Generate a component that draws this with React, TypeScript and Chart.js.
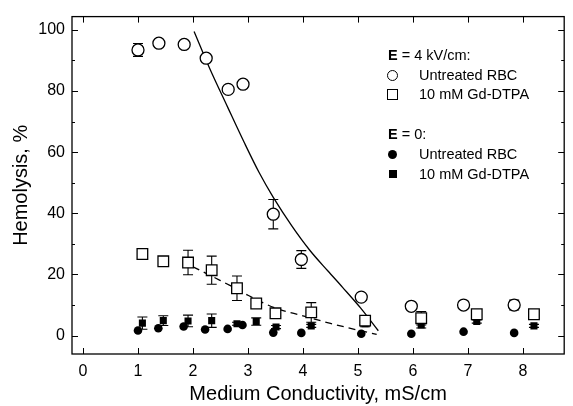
import React, { useEffect, useRef } from "react";
import { Chart, registerables } from "chart.js";
Chart.register(...registerables);

// E = 4 kV/cm, untreated RBC (open circles)
const xOpenCircle = [1.0, 1.38, 1.84, 2.24, 2.64, 2.91, 3.46, 3.97, 5.06, 5.97, 6.92, 7.84];
const yOpenCircle = [93.4, 95.6, 95.2, 90.7, 80.5, 82.2, 39.7, 24.9, 12.6, 9.6, 10.0, 10.0];
const eOpenCircle = [2.1, 1, 1, 1, 1, 1, 4.8, 2.9, 1, 1, 1, 1.6];

// E = 4 kV/cm, 10 mM Gd-DTPA (open squares)
const xOpenSquare = [1.08, 1.46, 1.91, 2.34, 2.8, 3.15, 3.5, 4.15, 5.13, 6.15, 7.16, 8.2];
const yOpenSquare = [26.7, 24.3, 23.9, 21.4, 15.5, 10.5, 7.3, 7.6, 4.9, 5.7, 7.0, 7.0];
const eOpenSquare = [1, 1, 4, 4.6, 4, 1, 1, 3.2, 1.5, 2.2, 1, 1];

// E = 0, untreated RBC (filled circles)
const xFilledCircle = [1.0, 1.37, 1.83, 2.22, 2.63, 2.9, 3.46, 3.97, 5.06, 5.97, 6.92, 7.84];
const yFilledCircle = [1.7, 2.4, 3.0, 2.0, 2.2, 3.5, 1.0, 0.9, 0.6, 0.6, 1.3, 0.9];

// E = 0, 10 mM Gd-DTPA (filled squares)
const xFilledSquare = [1.08, 1.46, 1.91, 2.34, 2.8, 3.15, 3.51, 4.15, 5.13, 6.15, 7.16, 8.2];
const yFilledSquare = [4.1, 4.9, 4.8, 4.9, 3.9, 4.6, 2.8, 3.2, 3.9, 3.5, 4.6, 3.2];
const eFilledSquare = [2, 1.6, 1.9, 2.2, 0.5, 1.2, 0.5, 0.5, 1, 1, 0.5, 0.5];

// Fit curves
const xSolidFit = [2.02, 2.3, 2.63, 2.93, 3.2, 3.46, 3.8, 4.12, 4.45, 4.72, 5.05, 5.37];
const ySolidFit = [99.4, 87.5, 74.7, 63.2, 53.4, 45.2, 35.8, 28.0, 21.2, 15.8, 9.0, 1.6];
const xDashFit = [2.0, 2.5, 2.78, 3.0, 3.5, 4.0, 4.5, 5.0, 5.34];
const yDashFit = [22.5, 18.0, 15.4, 13.2, 9.0, 6.5, 4.0, 1.8, 0.4];

const xTicks = [0, 1, 2, 3, 4, 5, 6, 7, 8];
const yTicks = [0, 20, 40, 60, 80, 100];
const yMinorTicks = [10, 30, 50, 70, 90];

const FONT = "'Liberation Sans', Arial, sans-serif";

const pts = (xs: number[], ys: number[]) => xs.map((x, i) => ({ x, y: ys[i] }));

const errorBarPlugin = {
  id: "errorBars",
  beforeDatasetsDraw(chart: any) {
    const ctx = chart.ctx;
    const ys = chart.scales.y;
    chart.data.datasets.forEach((ds: any, i: number) => {
      if (!ds.errors) return;
      const meta = chart.getDatasetMeta(i);
      ctx.save();
      ctx.strokeStyle = "#000";
      ctx.lineWidth = 1.1;
      meta.data.forEach((el: any, j: number) => {
        const e = ds.errors[j];
        if (!e) return;
        const v = ds.data[j].y;
        const x = el.x;
        const top = ys.getPixelForValue(v + e);
        const bot = ys.getPixelForValue(v - e);
        ctx.beginPath();
        ctx.moveTo(x, top);
        ctx.lineTo(x, bot);
        ctx.moveTo(x - 5, top);
        ctx.lineTo(x + 5, top);
        ctx.moveTo(x - 5, bot);
        ctx.lineTo(x + 5, bot);
        ctx.stroke();
      });
      ctx.restore();
    });
  },
};

const framePlugin = {
  id: "frame",
  afterDraw(chart: any) {
    const ctx = chart.ctx;
    const { left, right, top, bottom } = chart.chartArea;
    const xs = chart.scales.x;
    const ys = chart.scales.y;
    ctx.save();
    ctx.strokeStyle = "#000";
    ctx.lineWidth = 1.3;
    ctx.strokeRect(left, top, right - left, bottom - top);
    ctx.lineWidth = 1;
    ctx.beginPath();
    xTicks.forEach((v) => {
      const p = Math.round(xs.getPixelForValue(v)) + 0.5;
      ctx.moveTo(p, bottom);
      ctx.lineTo(p, bottom - 6);
      ctx.moveTo(p, top);
      ctx.lineTo(p, top + 6);
    });
    yTicks.forEach((v) => {
      const p = Math.round(ys.getPixelForValue(v)) + 0.5;
      ctx.moveTo(left, p);
      ctx.lineTo(left + 6, p);
      ctx.moveTo(right, p);
      ctx.lineTo(right - 6, p);
    });
    yMinorTicks.forEach((v) => {
      const p = Math.round(ys.getPixelForValue(v)) + 0.5;
      ctx.moveTo(left, p);
      ctx.lineTo(left + 3, p);
      ctx.moveTo(right, p);
      ctx.lineTo(right - 3, p);
    });
    ctx.stroke();
    ctx.restore();
  },
};

function Legend() {
  const rowStyle = (top: number): React.CSSProperties => ({
    position: "absolute",
    left: 0,
    top: top - 9,
    height: 18,
    lineHeight: "18px",
    fontFamily: FONT,
    fontSize: 14.5,
    color: "#000",
    whiteSpace: "nowrap",
  });
  const sym = (s: React.CSSProperties): React.CSSProperties => ({
    position: "absolute",
    boxSizing: "border-box",
    ...s,
  });
  return (
    <div style={{ position: "absolute", left: 0, top: 0, width: 573, height: 406, pointerEvents: "none" }}>
      <div style={{ ...rowStyle(55), left: 388 }}>
        <b>E</b> = 4 kV/cm:
      </div>
      <div style={sym({ left: 387, top: 70, width: 11, height: 11, border: "1.3px solid #000", borderRadius: "50%" })} />
      <div style={{ ...rowStyle(75), left: 419 }}>Untreated RBC</div>
      <div style={sym({ left: 387, top: 89, width: 11, height: 11, border: "1.3px solid #000" })} />
      <div style={{ ...rowStyle(94), left: 419 }}>10 mM Gd-DTPA</div>
      <div style={{ ...rowStyle(134), left: 388 }}>
        <b>E</b> = 0:
      </div>
      <div style={sym({ left: 388, top: 150, width: 9, height: 9, background: "#000", borderRadius: "50%" })} />
      <div style={{ ...rowStyle(154), left: 419 }}>Untreated RBC</div>
      <div style={sym({ left: 389, top: 170, width: 8, height: 8, background: "#000" })} />
      <div style={{ ...rowStyle(174), left: 419 }}>10 mM Gd-DTPA</div>
    </div>
  );
}

export default function App() {
  const ref = useRef<HTMLCanvasElement>(null);
  useEffect(() => {
    const chart = new Chart(ref.current as HTMLCanvasElement, {
      type: "scatter",
      data: {
        datasets: [
          {
            label: "E = 4 kV/cm: Untreated RBC",
            data: pts(xOpenCircle, yOpenCircle),
            errors: eOpenCircle,
            pointStyle: "circle",
            pointRadius: 6,
            backgroundColor: "#fff",
            borderColor: "#000",
            borderWidth: 1.3,
          } as any,
          {
            label: "E = 4 kV/cm: 10 mM Gd-DTPA",
            data: pts(xOpenSquare, yOpenSquare),
            errors: eOpenSquare,
            pointStyle: "rect",
            pointRadius: 7.5,
            backgroundColor: "#fff",
            borderColor: "#000",
            borderWidth: 1.3,
          } as any,
          {
            label: "E = 0: Untreated RBC",
            data: pts(xFilledCircle, yFilledCircle),
            pointStyle: "circle",
            pointRadius: 4.3,
            backgroundColor: "#000",
            borderColor: "#000",
            borderWidth: 0,
          } as any,
          {
            label: "E = 0: 10 mM Gd-DTPA",
            data: pts(xFilledSquare, yFilledSquare),
            errors: eFilledSquare,
            pointStyle: "rect",
            pointRadius: 5,
            backgroundColor: "#000",
            borderColor: "#000",
            borderWidth: 0,
          } as any,
          {
            label: "fit solid",
            type: "line",
            data: pts(xSolidFit, ySolidFit),
            showLine: true,
            pointRadius: 0,
            borderColor: "#000",
            borderWidth: 1.3,
            cubicInterpolationMode: "monotone",
            fill: false,
          } as any,
          {
            label: "fit dashed",
            type: "line",
            data: pts(xDashFit, yDashFit),
            showLine: true,
            pointRadius: 0,
            borderColor: "#000",
            borderWidth: 1.3,
            borderDash: [7, 5],
            cubicInterpolationMode: "monotone",
            fill: false,
          } as any,
        ],
      },
      options: {
        animation: false,
        responsive: false,
        devicePixelRatio: 1,
        layout: { padding: { top: 11, right: 2, left: 0, bottom: 0 } },
        plugins: { legend: { display: false }, tooltip: { enabled: false } },
        scales: {
          x: {
            type: "linear",
            min: -0.2,
            max: 8.75,
            grid: { display: false, drawTicks: false },
            border: { display: false },
            afterBuildTicks: (s: any) => {
              s.ticks = xTicks.map((v) => ({ value: v }));
            },
            afterFit: (s: any) => {
              s.height = 52;
            },
            ticks: { color: "#000", font: { family: FONT, size: 16 }, padding: 8, maxRotation: 0 },
            title: {
              display: true,
              text: "Medium Conductivity, mS/cm",
              color: "#000",
              font: { family: FONT, size: 20 },
              padding: { top: 2, bottom: 0 },
            },
          },
          y: {
            type: "linear",
            min: -6,
            max: 104.3,
            grid: { display: false, drawTicks: false },
            border: { display: false },
            afterBuildTicks: (s: any) => {
              s.ticks = yTicks.map((v) => ({ value: v }));
            },
            afterFit: (s: any) => {
              s.width = 72;
            },
            ticks: { color: "#000", font: { family: FONT, size: 16 }, padding: 7 },
            title: {
              display: true,
              text: "Hemolysis, %",
              color: "#000",
              font: { family: FONT, size: 20 },
              padding: { top: 9, bottom: 0 },
            },
          },
        },
      } as any,
      plugins: [errorBarPlugin, framePlugin],
    } as any);
    return () => chart.destroy();
  }, []);
  return (
    <div style={{ position: "fixed", left: 0, top: 0, width: 573, height: 406, background: "#fff" }}>
      <canvas ref={ref} width={573} height={406} style={{ width: 573, height: 406, display: "block" }} />
      <Legend />
    </div>
  );
}
